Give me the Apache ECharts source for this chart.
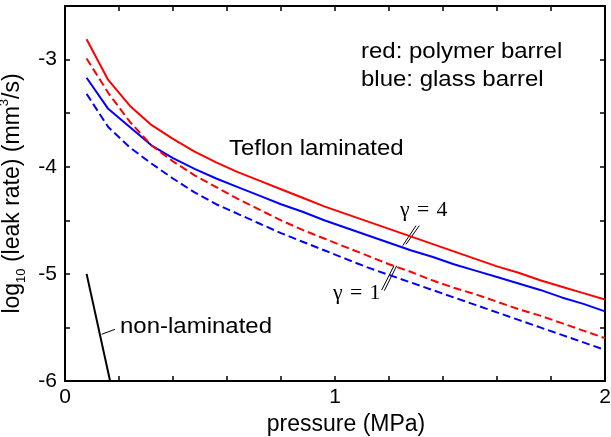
<!DOCTYPE html>
<html>
<head>
<meta charset="utf-8">
<script src="https://cdn.jsdelivr.net/npm/echarts@6/dist/echarts.min.js"></script>
<style>
  html, body { margin: 0; padding: 0; background: #fff; }
  #chart { width: 611px; height: 437px; }
</style>
</head>
<body>
<div id="chart"></div>
<script>
// Pressure samples (MPa) shared by the four laminated curves
const pressure = [0.08, 0.16, 0.24, 0.32, 0.40, 0.48, 0.56, 0.64, 0.72, 0.80,
                  0.88, 0.96, 1.04, 1.12, 1.20, 1.28, 1.36, 1.44, 1.52, 1.60,
                  1.68, 1.76, 1.84, 1.92, 2.00];

// log10 leak rate (mm^3/s), Teflon laminated
const polymerGamma4 = [-2.81, -3.19, -3.43, -3.61, -3.74, -3.86, -3.96, -4.05, -4.13, -4.21,
                       -4.29, -4.37, -4.44, -4.51, -4.58, -4.65, -4.72, -4.79, -4.86, -4.93,
                       -4.99, -5.06, -5.12, -5.18, -5.24];
const glassGamma4   = [-3.17, -3.46, -3.63, -3.80, -3.92, -4.02, -4.11, -4.19, -4.27, -4.35,
                       -4.42, -4.50, -4.57, -4.64, -4.71, -4.78, -4.84, -4.91, -4.97, -5.03,
                       -5.09, -5.15, -5.22, -5.28, -5.35];
const polymerGamma1 = [-2.99, -3.31, -3.58, -3.80, -3.95, -4.08, -4.19, -4.30, -4.40, -4.50,
                       -4.59, -4.67, -4.75, -4.83, -4.91, -4.98, -5.06, -5.13, -5.19, -5.26,
                       -5.33, -5.39, -5.46, -5.53, -5.60];
const glassGamma1   = [-3.32, -3.63, -3.82, -3.97, -4.11, -4.24, -4.35, -4.44, -4.53, -4.62,
                       -4.70, -4.78, -4.86, -4.94, -5.01, -5.08, -5.15, -5.22, -5.29, -5.36,
                       -5.43, -5.50, -5.57, -5.64, -5.71];

// Non-laminated barrel
const nonLamPressure = [0.08, 0.167];
const nonLamRate     = [-5.0, -6.0];

// Axis ranges and labelled ticks
const xRange = [0, 2];
const yRange = [-6, -2.5];
const xLabelled = [0, 1, 2];
const yLabelled = [-6, -5, -4, -3];

const SANS = '"Liberation Sans", Arial, Helvetica, sans-serif';
const SERIF = '"Liberation Serif", "Times New Roman", serif';
const RED = '#ff0000';
const BLUE = '#0000ff';

const pairs = (xs, ys) => xs.map((x, i) => [x, ys[i]]);
const near = (v, list) => list.some(t => Math.abs(v - t) < 1e-6);

function curve(name, ys, color, dashed) {
  return {
    name, type: 'line', data: pairs(pressure, ys),
    showSymbol: false, symbol: 'none', clip: true, silent: true,
    lineStyle: { color, width: 2, type: dashed ? [8, 4] : 'solid' }
  };
}

function frameAxis(extra) {
  return Object.assign({
    type: 'value',
    axisLine: { show: true, onZero: false, lineStyle: { color: '#000', width: 2 } },
    axisTick: { show: true, inside: true, length: 5, lineStyle: { color: '#000', width: 1.5 } },
    splitLine: { show: false }
  }, extra);
}

const chart = echarts.init(document.getElementById('chart'), null, { renderer: 'canvas' });

const hText = (text, x, y, size, family) => ({
  type: 'text', x, y, scaleX: 1.09, silent: true,
  style: { text, font: `${size}px ${family}`, fill: '#000', verticalAlign: 'middle', align: 'left' }
});
const seg = (x1, y1, x2, y2) => ({
  type: 'line', silent: true,
  shape: { x1, y1, x2, y2 },
  style: { stroke: '#000', lineWidth: 1 }
});

chart.setOption({
  animation: false,
  backgroundColor: '#fff',
  grid: { left: 65, right: 6, top: 6, bottom: 56, containLabel: false, outerBoundsMode: 'none' },
  xAxis: [
    frameAxis({
      position: 'bottom', min: xRange[0], max: xRange[1], interval: 0.2,
      name: 'pressure (MPa)', nameLocation: 'middle', nameGap: 28,
      nameTextStyle: { fontFamily: SANS, fontSize: 23, color: '#000', padding: [0, 0, 0, 22] },
      axisLabel: {
        show: true, margin: 6, fontFamily: SANS, fontSize: 21, color: '#000',
        showMinLabel: true, showMaxLabel: true,
        formatter: v => near(v, xLabelled) ? String(Math.round(v)) : ''
      }
    }),
    frameAxis({
      position: 'top', min: xRange[0], max: xRange[1], interval: 0.2,
      axisLabel: { show: false }
    })
  ],
  yAxis: [
    frameAxis({
      position: 'left', min: yRange[0], max: yRange[1], interval: 0.5,
      name: '{n|log}{s|10}{n| (leak rate) (mm}{p|3}{n|/s)}',
      nameLocation: 'middle', nameGap: 30, nameRotate: 90,
      nameTextStyle: {
        color: '#000',
        rich: {
          n: { fontFamily: SANS, fontSize: 23, lineHeight: 30, verticalAlign: 'middle' },
          s: { fontFamily: SANS, fontSize: 13, lineHeight: 30, verticalAlign: 'bottom' },
          p: { fontFamily: SANS, fontSize: 13, lineHeight: 30, verticalAlign: 'top' }
        }
      },
      axisLabel: {
        show: true, margin: 8, fontFamily: SANS, fontSize: 21, color: '#000',
        showMinLabel: true, showMaxLabel: true,
        formatter: v => near(v, yLabelled) ? String(Math.round(v)) : ''
      }
    }),
    frameAxis({
      position: 'right', min: yRange[0], max: yRange[1], interval: 0.5,
      axisLabel: { show: false }
    })
  ],
  series: [
    curve('polymer, γ = 4', polymerGamma4, RED, false),
    curve('glass, γ = 4', glassGamma4, BLUE, false),
    curve('polymer, γ = 1', polymerGamma1, RED, true),
    curve('glass, γ = 1', glassGamma1, BLUE, true),
    {
      name: 'non-laminated', type: 'line', data: pairs(nonLamPressure, nonLamRate),
      showSymbol: false, symbol: 'none', clip: true, silent: true,
      lineStyle: { color: '#000', width: 2 }
    }
  ],
  graphic: [
    hText('red: polymer barrel', 361, 52, 22, SANS),
    hText('blue: glass barrel', 361, 80, 22, SANS),
    hText('Teflon laminated', 229, 149, 22, SANS),
    hText('non-laminated', 120, 327, 22, SANS),
    hText('γ\u2004=\u20044', 400, 211, 20, SERIF),
    hText('γ\u2004=\u20041', 333, 294, 20, SERIF),
    // leader from the non-laminated label to its line
    seg(101.7, 334.3, 115, 329.3),
    // double-slash markers for the γ labels
    seg(402.7, 245.7, 416, 225.7),
    seg(406, 244.3, 419.3, 225.7),
    seg(381.7, 290, 394, 265.7),
    seg(384.3, 290.7, 396.7, 265.7)
  ]
});
</script>
</body>
</html>
